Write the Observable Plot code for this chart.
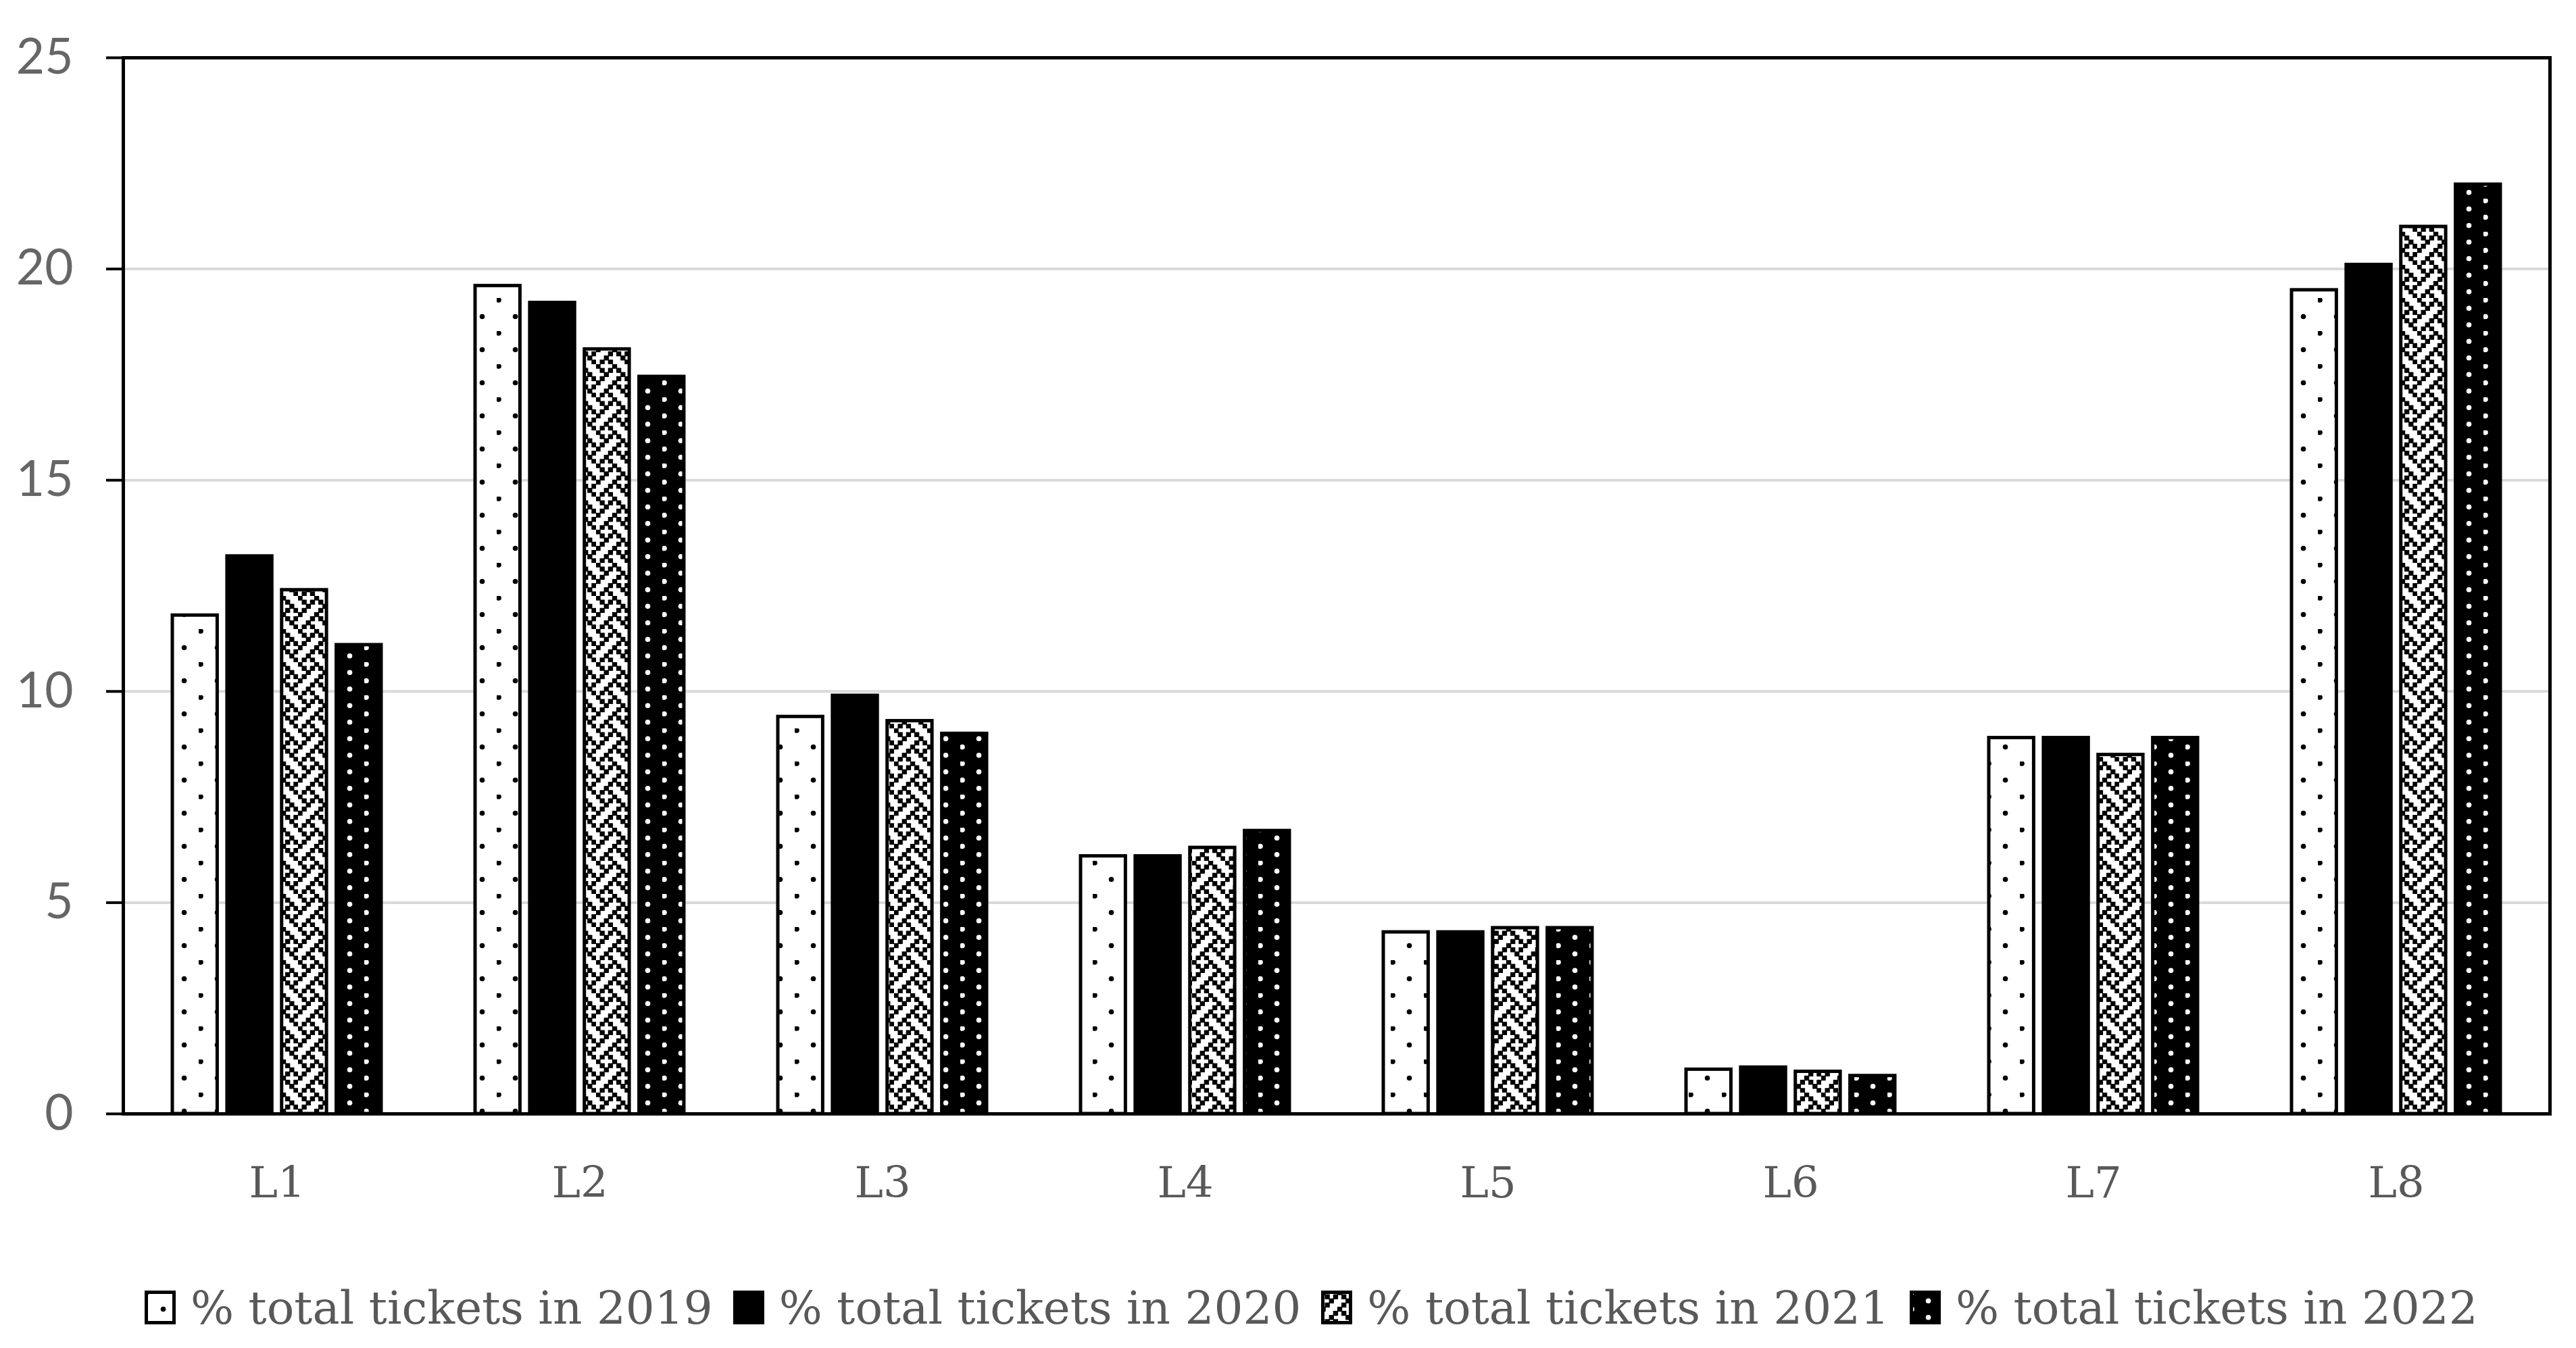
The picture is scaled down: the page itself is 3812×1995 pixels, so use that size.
<!DOCTYPE html>
<html><head><meta charset="utf-8">
<script src="https://cdn.jsdelivr.net/npm/d3@7"></script>
<script src="https://cdn.jsdelivr.net/npm/@observablehq/plot@0.6"></script>
<style>
html,body{margin:0;padding:0;background:#fff;}
body{width:3812px;height:1995px;position:relative;overflow:hidden;}
#chart{position:absolute;left:0;top:0;}
#legend{position:absolute;left:214px;top:1907px;height:56px;display:flex;align-items:center;font-family:"DejaVu Serif";font-size:67.5px;color:#595959;white-space:nowrap;}
.item{display:flex;align-items:center;margin-right:30px;}
.item svg{margin-right:22px;display:block;}
</style></head><body>
<svg width="0" height="0" style="position:absolute"><defs id="defs"></defs></svg>
<div id="chart"></div>
<div id="legend"></div>
<script>
const categories = ["L1","L2","L3","L4","L5","L6","L7","L8"];
const seriesNames = ["% total tickets in 2019","% total tickets in 2020","% total tickets in 2021","% total tickets in 2022"];
const values2019 = [11.8, 19.6, 9.4, 6.1, 4.3, 1.05, 8.9, 19.5];
const values2020 = [13.2, 19.2, 9.9, 6.1, 4.3, 1.1, 8.9, 20.1];
const values2021 = [12.4, 18.1, 9.3, 6.3, 4.4, 1.0, 8.5, 21.0];
const values2022 = [11.1, 17.45, 9.0, 6.7, 4.4, 0.9, 8.9, 22.0];
const yTicks = [0, 5, 10, 15, 20, 25];

const seriesValues = [values2019, values2020, values2021, values2022];
const rows = [];
seriesNames.forEach((s, i) => categories.forEach((c, j) => rows.push({category: c, series: s, value: seriesValues[i][j]})));

// ---- fill patterns (8x8 bitmaps, magnified) ----
const px = 6.125, tile = 8 * px;
const NS = "http://www.w3.org/2000/svg";
const defs = document.getElementById("defs");
function makePattern(id, bg, fg, bits, round, grow) {
  const p = document.createElementNS(NS, "pattern");
  p.setAttribute("id", id);
  p.setAttribute("patternUnits", "userSpaceOnUse");
  p.setAttribute("width", tile);
  p.setAttribute("height", tile);
  const r = document.createElementNS(NS, "rect");
  r.setAttribute("width", tile); r.setAttribute("height", tile); r.setAttribute("fill", bg);
  p.appendChild(r);
  bits.forEach((row, y) => {
    for (let x = 0; x < 8; x++) {
      if (row[x] !== "1") continue;
      let e;
      if (round) {
        e = document.createElementNS(NS, "circle");
        e.setAttribute("cx", (x + 0.5) * px); e.setAttribute("cy", (y + 0.5) * px); e.setAttribute("r", px * 0.62);
      } else {
        e = document.createElementNS(NS, "rect");
        e.setAttribute("x", x * px - grow / 2); e.setAttribute("y", y * px - grow / 2);
        e.setAttribute("width", px + grow); e.setAttribute("height", px + grow);
      }
      e.setAttribute("fill", fg);
      p.appendChild(e);
    }
  });
  defs.appendChild(p);
}
makePattern("pat0", "white", "black", ["10000000","00000000","00000000","00000000","00001000","00000000","00000000","00000000"], true, 0);
makePattern("pat1", "black", "black", ["00000000","00000000","00000000","00000000","00000000","00000000","00000000","00000000"], false, 0);
makePattern("pat2", "white", "black", ["10001000","01010100","00100010","01000101","10001000","00010101","00100010","01010001"], false, 1.2);
makePattern("pat3", "black", "white", ["10000000","00000000","00001000","00000000","10000000","00000000","00001000","00000000"], true, 0);

// ---- layout ----
const W = 3812, H = 1830, mL = 182, mR = 39, mT = 85, mB = 182;
const padInner = 0.31, subPad = 0.17;
const step = (W - mL - mR) / categories.length;
const bw = step * (1 - padInner);
const sub = bw / (seriesNames.length - subPad);
const barW = sub * (1 - subPad);

const barMarks = seriesNames.map((s, i) => Plot.barY(rows.filter(d => d.series === s), {
  x: "category", y: "value",
  fill: `url(#pat${i})`, stroke: "black", strokeWidth: 5,
  insetLeft: i * sub, insetRight: bw - i * sub - barW
}));

const chart = Plot.plot({
  width: W, height: H,
  marginLeft: mL, marginRight: mR, marginTop: mT, marginBottom: mB,
  style: {background: "white", overflow: "visible"},
  x: {domain: categories, paddingInner: padInner, paddingOuter: padInner / 2},
  y: {domain: [0, 25]},
  marks: [
    Plot.gridY({ticks: yTicks, stroke: "#d9d9d9", strokeOpacity: 1, strokeWidth: 4}),
    ...barMarks,
    Plot.frame({stroke: "black", strokeWidth: 5}),
    Plot.axisX({tickSize: 0, tickPadding: 78, fontSize: 64, fontFamily: "DejaVu Serif", fill: "#595959", label: null}),
    Plot.axisY({ticks: yTicks, tickSize: 25, tickPadding: 49, stroke: "black", strokeWidth: 4, fill: "#666666", fontSize: 73, fontFamily: "Lato", label: null, tickFormat: d => d})
  ]
});
document.getElementById("chart").appendChild(chart);

// ---- legend ----
const legend = document.getElementById("legend");
seriesNames.forEach((s, i) => {
  const item = document.createElement("div");
  item.className = "item";
  item.innerHTML = `<svg width="46" height="50"><rect x="2.5" y="2.5" width="41" height="45" fill="url(#pat${i})" stroke="black" stroke-width="5"/></svg><span>${s}</span>`;
  legend.appendChild(item);
});
</script>
</body></html>
